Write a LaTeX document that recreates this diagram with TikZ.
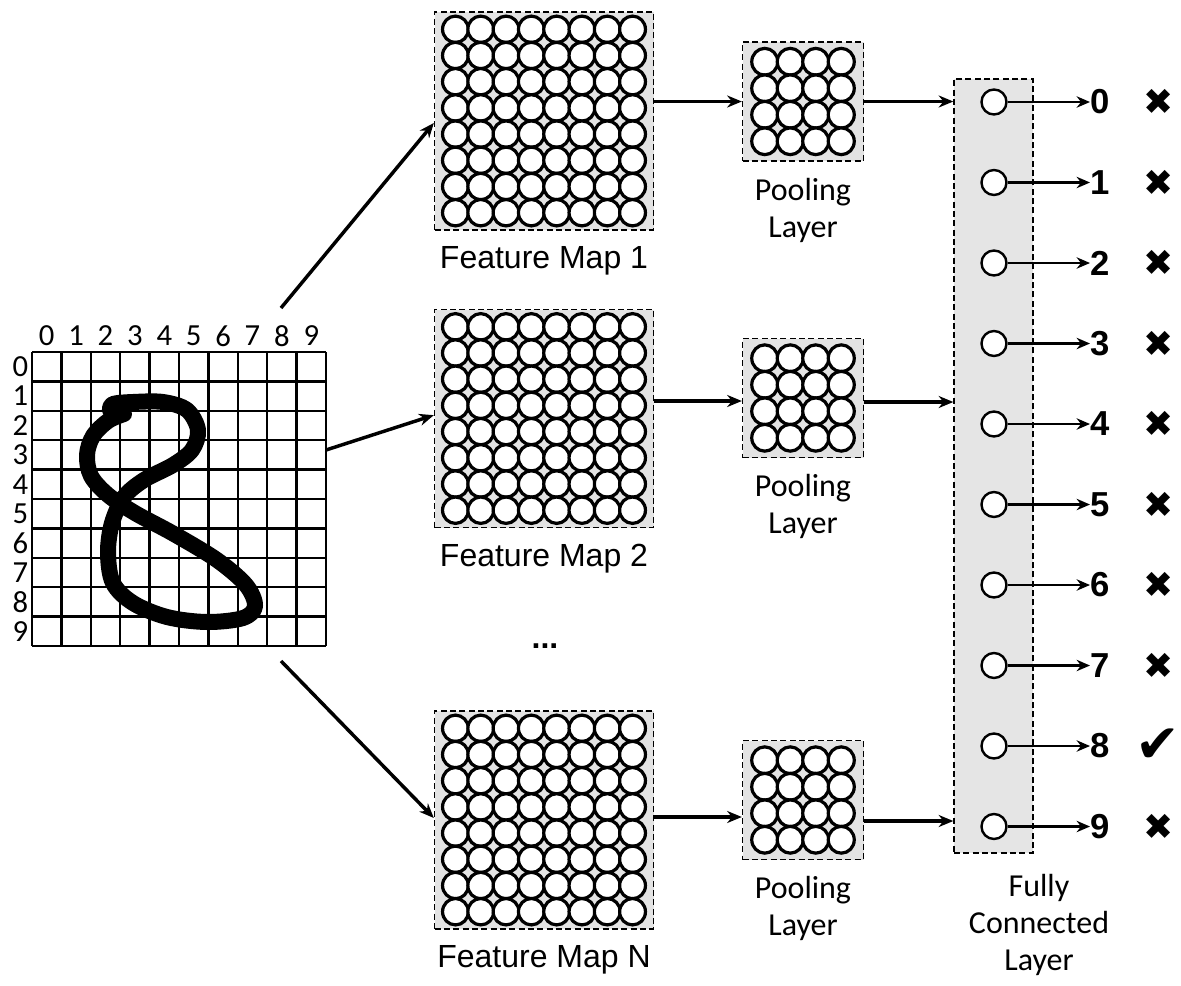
\documentclass[tikz,border=0pt]{standalone}
\usepackage{fontspec}
\setmainfont{Liberation Sans}
\newfontfamily\calib{Carlito}
\newfontfamily\dejavu{DejaVu Sans}
\usetikzlibrary{arrows.meta,shadows,calc}
\begin{document}
\begin{tikzpicture}[x=0.75pt,y=-0.75pt,
  arr/.style={line width=2.6pt,-{Stealth[length=11pt,width=9pt]}},
  dbox/.style={draw,line width=1pt,dash pattern=on 4.5pt off 2.5pt,fill=gray!22,inner sep=0pt},
  fmbox/.style={dbox,minimum width=164.25pt,minimum height=163.5pt},
  poolbox/.style={dbox,minimum width=90.75pt,minimum height=89.25pt},
  cell/.style={draw,line width=2.4pt,fill=white,drop shadow={shadow xshift=1pt,shadow yshift=-1pt,opacity=0.35}},
  fccirc/.style={circle,draw,line width=1.8pt,fill=white,minimum size=18.75pt,inner sep=0pt},
  fmlabel/.style={font=\fontsize{24}{28}\selectfont},
  plabel/.style={font=\calib\fontsize{24}{27.75}\selectfont,align=center},
  glabel/.style={font=\calib\fontsize{23}{23}\selectfont,inner sep=0pt},
  digit/.style={font=\bfseries\fontsize{26}{26}\selectfont,inner sep=0pt,anchor=west},
  cmark/.style={font=\dejavu\fontsize{27}{27}\selectfont,inner sep=0pt},
  tmark/.style={font=\dejavu\fontsize{40}{40}\selectfont,inner sep=0pt}
]
\useasboundingbox (0,0) rectangle (1181,985);

% ---------- input grid ----------
\node[inner sep=0pt,minimum width=220.5pt,minimum height=220.5pt] (grid) at (179,499) {};
\foreach \i in {0,...,10}{
  \draw[line width=1.9pt] ({32+29.4*\i},352) -- ({32+29.4*\i},646);
  \draw[line width=1.9pt] (32,{352+29.4*\i}) -- (326,{352+29.4*\i});
}
\foreach \i in {0,...,9}{
  \node[glabel] (col\i) at ({32+29.4*(\i+0.5)},336) {\i};
  \node[glabel] (row\i) at (20.5,{352+29.4*(\i+0.5)}) {\i};
}
% handwritten eight
\draw[line width=12pt,line cap=round,line join=round]
  plot[smooth,tension=0.55] coordinates {
  (124,414) (108,421) (93,436) (87,455) (91,476) (108,495) (135,513) (174,534)
  (217,560) (246,585) (255,606) (243,618) (207,622) (167,617) (133,603)
  (113,583) (108,553) (112,523) (124,497) (144,480) (173,465) (192,450)
  (198,430) (187,410) (163,402) (133,402) (113,404) (110,410)};

% ---------- feature maps ----------
\foreach \n/\cy/\lab in {fmA/121/1,fmB/418.5/2,fmC/820/N}{
  \node[fmbox] (\n) at (544,\cy) {};
  \foreach \r in {0,...,7}{
    \foreach \c in {0,...,7}{
      \draw[cell] ({544-88.55+25.3*\c},{\cy-91.7+26.2*\r}) ellipse (12.9 and 13.2);
    }
  }
  \node[fmlabel] (\n lab) at (544,\cy+140) {Feature Map \lab};
}

% ---------- pooling layers ----------
\foreach \n/\cy in {plA/101.5,plB/398,plC/800}{
  \node[poolbox] (\n) at (803,\cy) {};
  \foreach \r in {0,...,3}{
    \foreach \c in {0,...,3}{
      \draw[cell] ({803-38.25+25.5*\c},{\cy-39.75+26.5*\r}) ellipse (13 and 13.4);
    }
  }
  \node[plabel] (\n lab) at (803,\cy+108.5) {Pooling\\Layer};
}

\node[font=\bfseries\fontsize{24}{24}\selectfont] (dots) at (545,646) {...};

% ---------- fully connected layer ----------
\node[dbox,fill=gray!20,minimum width=59.25pt,minimum height=580.5pt] (fc) at (993.5,466) {};
\node[plabel] (fclab) at (1039,925) {Fully\\Connected\\Layer};
\foreach \i in {0,...,9}{
  \node[fccirc] (c\i) at (994,{102+80.5*\i}) {};
  \node[digit] (d\i) at (1090,{102+80.5*\i}) {\i};
  \draw[line width=2.2pt,-{Stealth[length=10pt,width=8.5pt]}] (c\i.east) -- (d\i.west);
}
\foreach \i in {0,...,7,9}{
  \node[cmark] (m\i) at (1159,{102+80.5*\i}) {✖};
}
\node[tmark] (m8) at (1158,746) {✔};

% ---------- connectors ----------
\coordinate (gA) at (281,308);
\coordinate (gB) at (326,450);
\coordinate (gC) at (281,661);
\draw[arr] (gA) -- ([yshift=-1.5pt]fmA.west);
\draw[arr] (gB) -- ([yshift=2.5pt]fmB.west);
\draw[arr] (gC) -- ([yshift=1.5pt]fmC.west);

\coordinate (pA) at (plA.west);
\coordinate (pB) at ($(plB.west)+(0,3)$);
\coordinate (pC) at ($(plC.west)+(0,17)$);
\draw[arr] (fmA.east |- pA) -- (pA);
\draw[arr] (fmB.east |- pB) -- (pB);
\draw[arr] (fmC.east |- pC) -- (pC);

\coordinate (qA) at (plA.east);
\coordinate (qB) at ($(plB.east)+(0,4)$);
\coordinate (qC) at ($(plC.east)+(0,21)$);
\draw[arr] (qA) -- (qA -| fc.west);
\draw[arr] (qB) -- (qB -| fc.west);
\draw[arr] (qC) -- (qC -| fc.west);
\end{tikzpicture}
\end{document}
